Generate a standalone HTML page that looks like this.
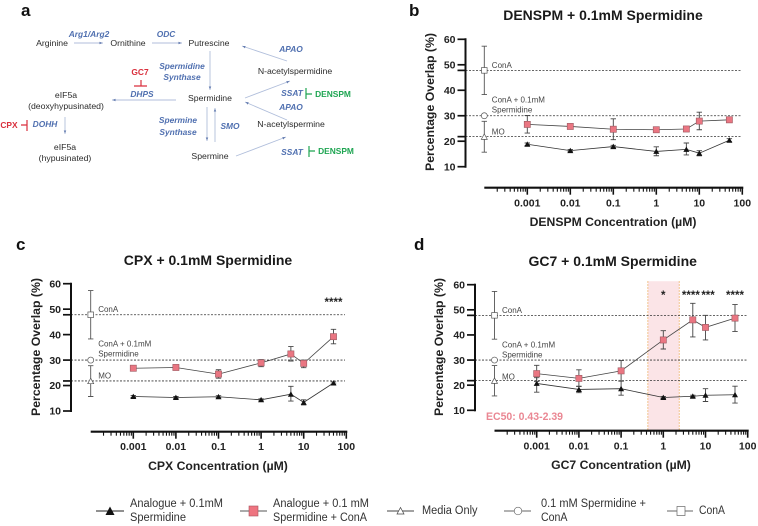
<!DOCTYPE html>
<html lang="en">
<head>
<meta charset="utf-8">
<title>Polyamine pathway and spermidine overlap charts</title>
<style>
html,body{margin:0;padding:0;background:#fff;width:758px;height:526px;overflow:hidden}
svg{display:block;filter:blur(.35px)}
text{font-family:"Liberation Sans",sans-serif}
.m{font-size:8.7px;fill:#2b2b2b;text-anchor:middle}
.e{font-size:8.4px;fill:#5070b0;font-style:italic;font-weight:bold;text-anchor:middle}
.r{font-size:8.4px;fill:#d92f3c;font-weight:bold;text-anchor:middle}
.g{font-size:8.4px;fill:#1ea552;font-weight:bold;text-anchor:middle}
.l{font-size:11.5px;fill:#333}
.pl{font-size:17px;font-weight:bold;fill:#111}
.arr{stroke:#b0bedb;stroke-width:.9;fill:none;marker-end:url(#ah)}
</style>
</head>
<body>
<svg id="fig" xmlns="http://www.w3.org/2000/svg" width="758" height="526" viewBox="0 0 758 526">
<defs><marker id="ah" markerWidth="5" markerHeight="5" refX="4" refY="2" orient="auto"><path d="M0,.6 L3.5,2 L0,3.4Z" fill="#5f78ad"/></marker></defs>
<rect width="758" height="526" fill="#fff"/>
<g>
<text class="pl" x="21" y="16">a</text>
<text class="m" x="52" y="46">Arginine</text>
<text class="m" x="128" y="46">Ornithine</text>
<text class="m" x="209" y="46">Putrescine</text>
<text class="e" x="89" y="37">Arg1/Arg2</text>
<text class="e" x="166" y="37">ODC</text>
<text class="e" x="291" y="52">APAO</text>
<text class="m" x="295" y="74">N-acetylspermidine</text>
<text class="e" x="182" y="69">Spermidine</text>
<text class="e" x="182" y="80">Synthase</text>
<text class="r" x="140" y="75">GC7</text>
<text class="e" x="142" y="97">DHPS</text>
<text class="m" x="66" y="98">eIF5a</text>
<text class="m" x="66" y="109">(deoxyhypusinated)</text>
<text class="m" x="210" y="101">Spermidine</text>
<text class="e" x="292" y="96">SSAT</text>
<text class="g" x="333" y="97">DENSPM</text>
<text class="e" x="291" y="110">APAO</text>
<text class="m" x="291" y="127">N-acetylspermine</text>
<text class="e" x="178" y="123">Spermine</text>
<text class="e" x="178" y="135">Synthase</text>
<text class="e" x="230" y="129">SMO</text>
<text class="r" x="9" y="128">CPX</text>
<text class="e" x="45" y="127">DOHH</text>
<text class="m" x="65" y="150">eIF5a</text>
<text class="m" x="65" y="161">(hypusinated)</text>
<text class="m" x="210" y="159">Spermine</text>
<text class="e" x="292" y="155">SSAT</text>
<text class="g" x="336" y="154">DENSPM</text>
<g>
<line class="arr" x1="74" y1="43" x2="103" y2="43"/>
<line class="arr" x1="152" y1="43" x2="182" y2="43"/>
<line class="arr" x1="210" y1="51" x2="210" y2="90"/>
<line class="arr" x1="287" y1="61" x2="242" y2="46"/>
<line class="arr" x1="245" y1="98" x2="290" y2="81"/>
<line class="arr" x1="287" y1="120" x2="245" y2="102"/>
<line class="arr" x1="236" y1="156" x2="286" y2="137"/>
<line class="arr" x1="207" y1="107" x2="207" y2="141"/>
<line class="arr" x1="215" y1="142" x2="215" y2="108"/>
<line class="arr" x1="176" y1="100" x2="112" y2="100"/>
<line class="arr" x1="65" y1="117" x2="65" y2="134"/>
</g>
<g fill="none" stroke-width="1.2">
<path d="M134,86H147M141,80V86" stroke="#d92f3c"/>
<path d="M27,120V131M21,125H27" stroke="#d92f3c"/>
<path d="M306,88V99M306,94H312" stroke="#1ea552"/>
<path d="M309,146V157M309,151H315" stroke="#1ea552"/>
</g>
</g>
<g id="charts"></g>
<g>
<g>
<line x1="96" y1="511" x2="124" y2="511" stroke="#222" stroke-width=".9"/>
<path d="M105.5,515 L110,506.5 L114.5,515Z" fill="#111"/>
<text class="l" x="130" y="507" textLength="93" lengthAdjust="spacingAndGlyphs">Analogue + 0.1mM</text>
<text class="l" x="130" y="521" textLength="56" lengthAdjust="spacingAndGlyphs">Spermidine</text>
</g>
<g>
<line x1="240" y1="511" x2="267" y2="511" stroke="#555" stroke-width=".9"/>
<rect x="249" y="506" width="9" height="10" fill="#ee7480" stroke="#a8525c" stroke-width=".6"/>
<text class="l" x="273" y="507" textLength="96" lengthAdjust="spacingAndGlyphs">Analogue + 0.1 mM</text>
<text class="l" x="273" y="521" textLength="94" lengthAdjust="spacingAndGlyphs">Spermidine + ConA</text>
</g>
<g>
<line x1="387" y1="511" x2="414" y2="511" stroke="#444" stroke-width=".9"/>
<path d="M397,514 L400.5,507.5 L404,514Z" fill="#fff" stroke="#444" stroke-width=".7"/>
<text class="l" x="422" y="514" textLength="55.5" lengthAdjust="spacingAndGlyphs">Media Only</text>
</g>
<g>
<line x1="504" y1="511" x2="531" y2="511" stroke="#666" stroke-width=".9"/>
<circle cx="518" cy="511" r="3.8" fill="#fff" stroke="#666" stroke-width=".7"/>
<text class="l" x="541" y="507" textLength="105" lengthAdjust="spacingAndGlyphs">0.1 mM Spermidine +</text>
<text class="l" x="541" y="521" textLength="26.5" lengthAdjust="spacingAndGlyphs">ConA</text>
</g>
<g>
<line x1="667" y1="511" x2="693" y2="511" stroke="#666" stroke-width=".9"/>
<rect x="677" y="506.5" width="8" height="9" fill="#fff" stroke="#666" stroke-width=".7"/>
<text class="l" x="699" y="514" textLength="26" lengthAdjust="spacingAndGlyphs">ConA</text>
</g>
</g>
</svg>
<script>
// Shared data
const doses = [0.001, 0.01, 0.1, 1, 5, 10, 50];
const xTickValues = [0.001, 0.01, 0.1, 1, 10, 100];
const xTickLabels = ['0.001', '0.01', '0.1', '1', '10', '100'];
const yTickValues = [10, 20, 30, 40, 50, 60];
const referenceValues = [47.8, 30, 21.8];
const controlNames = ['cona', 'spermidine-cona', 'media-only'];
const controlValues = [47.8, 30, 21.7];
const controlLow = [38.3, 30, 15.7];
const controlHigh = [57.3, 30, 27.8];

// Panel b: DENSPM
const bAnalogue = [18.8, 16.3, 17.9, 16.0, 16.8, 15.3, 20.4];
const bAnalogueLow = [18.3, 15.9, 17.4, 14.3, 14.6, 14.3, 19.8];
const bAnalogueHigh = [19.3, 16.7, 18.4, 17.8, 19.3, 16.3, 21.0];
const bCona = [26.6, 25.8, 24.7, 24.5, 24.8, 27.9, 28.4];
const bConaLow = [23.2, 25.0, 20.6, 23.5, 24.0, 24.5, 27.4];
const bConaHigh = [30.1, 26.6, 28.8, 25.5, 25.6, 31.4, 29.4];

// Panel c: CPX
const cAnalogue = [15.7, 15.3, 15.6, 14.4, 16.6, 13.4, 21.0];
const cAnalogueLow = [15.3, 14.9, 15.2, 14.0, 13.9, 12.4, 20.6];
const cAnalogueHigh = [16.1, 15.7, 16.0, 14.8, 19.7, 14.4, 21.4];
const cCona = [26.8, 27.1, 24.5, 28.9, 32.4, 28.7, 39.2];
const cConaLow = [26.2, 26.5, 22.9, 27.4, 29.6, 27.0, 36.4];
const cConaHigh = [27.4, 27.7, 26.2, 30.2, 35.3, 30.0, 42.1];

// Panel d: GC7
const dAnalogue = [20.7, 18.3, 18.6, 15.1, 15.6, 16.0, 16.2];
const dAnalogueLow = [17.2, 17.0, 16.0, 14.7, 15.2, 13.5, 12.9];
const dAnalogueHigh = [23.0, 19.5, 21.6, 15.5, 16.0, 18.6, 19.6];
const dCona = [24.6, 22.7, 25.7, 38.0, 46.0, 43.0, 46.7];
const dConaLow = [21.5, 19.6, 21.7, 34.4, 39.2, 38.0, 41.4];
const dConaHigh = [27.9, 26.1, 29.8, 41.7, 52.6, 47.8, 52.1];

// Significance marks
const cStarDoses = [50];
const cStarLabels = ['****'];
const dStarDoses = [1, 4.5, 11.5, 50];
const dStarLabels = ['*', '****', '***', '****'];
const dEc50Range = [0.43, 2.39];

const NS = 'http://www.w3.org/2000/svg';
function mk(tag, attrs, parent, txt) {
  const n = document.createElementNS(NS, tag);
  for (const k in attrs) n.setAttribute(k, attrs[k]);
  if (txt !== undefined) n.textContent = txt;
  parent.appendChild(n);
  return n;
}
const root = document.getElementById('charts');

function drawPanel(p) {
  const g = mk('g', {}, root);
  
  
  const X = v => p.x0 + (Math.log10(v) + 3) * p.decade;
  const Y = v => p.y60 + (60 - v) * (p.y10 - p.y60) / 50;
  const ctrlX = X(0.0001);

  const letter = mk('text', {x: p.lx, y: p.ly, 'class': 'pl'}, g, p.id);
  
  

  const title = mk('text', {x: p.tx, y: p.ty, 'text-anchor': 'middle', 'font-size': 14, 'font-weight': 'bold', fill: '#1a1a1a'}, g, p.title);
  
  

  if (p.ec50) {
    const sx1 = X(p.ec50[0]), sx2 = X(p.ec50[1]);
    const shade = mk('rect', {x: sx1, y: p.y60 - 3.5, width: sx2 - sx1, height: p.xAxisY - p.y60 + 3, fill: '#fbe4e7'}, g);
    
    
    [sx1, sx2].forEach(sx => {
      const edge = mk('line', {x1: sx, x2: sx, y1: p.y60 - 3.5, y2: p.xAxisY - 1, stroke: '#eeb56c', 'stroke-width': 1, 'stroke-dasharray': '1.5 1.5'}, g);
      
      
    });
    const ec = mk('text', {x: p.ecx, y: p.ecy, 'font-size': 11, 'font-weight': 'bold', fill: '#ea8793', textLength: 77, lengthAdjust: 'spacingAndGlyphs'}, g, 'EC50: 0.43-2.39');
    
    
  }

  referenceValues.forEach(v => {
    const ref = mk('line', {x1: p.axisX, x2: p.dashEnd, y1: Y(v), y2: Y(v), stroke: '#333', 'stroke-width': .8, 'stroke-dasharray': '2 1.5'}, g);
    
    
  });

  // y axis
  const yAxis = mk('line', {x1: p.axisX, x2: p.axisX, y1: Y(60) - 1, y2: Y(10) + 1, stroke: '#111', 'stroke-width': 2}, g);
  
  
  yTickValues.concat(referenceValues.filter(v => v !== 30)).forEach(v => {
    const t = mk('line', {x1: p.axisX - 8, x2: p.axisX, y1: Y(v), y2: Y(v), stroke: '#111', 'stroke-width': 1.7}, g);
    
    
  });
  yTickValues.forEach(v => {
    const t = mk('text', {x: p.axisX - 10, y: Y(v) + 3.7, 'text-anchor': 'end', 'font-size': 10.5, 'font-weight': 'bold', fill: '#222'}, g, String(v));
    
    
  });
  const yt = mk('text', {transform: 'translate(' + p.ytx + ',' + p.yty + ') rotate(-90)', 'text-anchor': 'middle', 'font-size': 12, 'font-weight': 'bold', fill: '#222', textLength: 138, lengthAdjust: 'spacingAndGlyphs'}, g, 'Percentage Overlap (%)');
  
  

  // x axis
  const xAxis = mk('line', {x1: ctrlX, x2: X(100) + 1, y1: p.xAxisY, y2: p.xAxisY, stroke: '#111', 'stroke-width': 2.2}, g);
  
  
  for (let e = -4; e < 2; e++) {
    for (let m = 2; m < 10; m++) {
      const v = m * Math.pow(10, e);
      const mt = mk('line', {x1: X(v), x2: X(v), y1: p.xAxisY, y2: p.xAxisY + 4, stroke: '#111', 'stroke-width': 1.1}, g);
      
      
    }
  }
  xTickValues.forEach((v, i) => {
    const t = mk('line', {x1: X(v), x2: X(v), y1: p.xAxisY, y2: p.xAxisY + 7, stroke: '#111', 'stroke-width': 1.6}, g);
    
    
    const l = mk('text', {x: X(v), y: p.xLabelY, 'text-anchor': 'middle', 'font-size': 10.5, 'font-weight': 'bold', fill: '#222'}, g, xTickLabels[i]);
    
    
  });
  const xt = mk('text', {x: p.xtx, y: p.xty, 'text-anchor': 'middle', 'font-size': 12.2, 'font-weight': 'bold', fill: '#222'}, g, p.xTitle);
  
  

  // control annotations
  [['ConA', 28.5], ['ConA + 0.1mM', 63], ['Spermidine', 73], ['MO', 95]].forEach(a => {
    const t = mk('text', {x: ctrlX + 7.5, y: p.y60 + a[1], 'font-size': 8, fill: '#444'}, g, a[0]);
    
    
  });

  const errorBar = (x, lo, hi, color, name) => {
    const e = mk('path', {d: 'M' + (x - 2.7) + ',' + Y(hi) + 'H' + (x + 2.7) + 'M' + x + ',' + Y(hi) + 'V' + Y(lo) + 'M' + (x - 2.7) + ',' + Y(lo) + 'H' + (x + 2.7), fill: 'none', stroke: color, 'stroke-width': .9}, g);
    
    
  };

  // controls
  controlValues.forEach((v, i) => {
    if (controlHigh[i] > controlLow[i]) errorBar(ctrlX, controlLow[i], controlHigh[i], '#555', 'control-error-bar');
  });
  controlValues.forEach((v, i) => {
    const y = Y(v);
    let c;
    if (controlNames[i] === 'cona') c = mk('rect', {x: ctrlX - 2.8, y: y - 2.8, width: 5.6, height: 5.6, fill: '#fff', stroke: '#555', 'stroke-width': .7}, g);
    else if (controlNames[i] === 'spermidine-cona') c = mk('circle', {cx: ctrlX, cy: y, r: 3, fill: '#fff', stroke: '#555', 'stroke-width': .7}, g);
    else c = mk('path', {d: 'M' + (ctrlX - 3) + ',' + (y + 2.5) + 'L' + ctrlX + ',' + (y - 3) + 'L' + (ctrlX + 3) + ',' + (y + 2.5) + 'Z', fill: '#fff', stroke: '#555', 'stroke-width': .7}, g);
    
    
  });

  // analogue series
  const aLine = mk('polyline', {points: doses.map((d, i) => X(d) + ',' + Y(p.analogue[i])).join(' '), fill: 'none', stroke: '#333', 'stroke-width': .8}, g);
  
  
  doses.forEach((d, i) => errorBar(X(d), p.analogueLow[i], p.analogueHigh[i], '#444', 'analogue-error-bar'));
  doses.forEach((d, i) => {
    const x = X(d), y = Y(p.analogue[i]);
    const m = mk('path', {d: 'M' + (x - 3) + ',' + (y + 2.5) + 'L' + x + ',' + (y - 2.9) + 'L' + (x + 3) + ',' + (y + 2.5) + 'Z', fill: '#111'}, g);
    
    
  });

  // analogue + ConA series
  const cLine = mk('polyline', {points: doses.map((d, i) => X(d) + ',' + Y(p.cona[i])).join(' '), fill: 'none', stroke: '#444', 'stroke-width': .8}, g);
  
  
  doses.forEach((d, i) => errorBar(X(d), p.conaLow[i], p.conaHigh[i], '#444', 'analogue-cona-error-bar'));
  doses.forEach((d, i) => {
    const x = X(d), y = Y(p.cona[i]);
    const m = mk('rect', {x: x - 3.1, y: y - 3.1, width: 6.2, height: 6.2, fill: '#ea7682', stroke: '#9c5a62', 'stroke-width': .6}, g);
    
    
  });

  // significance
  p.starDoses.forEach((d, i) => {
    const s = mk('text', {x: X(d), y: p.starY, 'text-anchor': 'middle', 'font-size': 11.5, 'font-weight': 'bold', fill: '#222'}, g, p.starLabels[i]);
    
    
  });
}

drawPanel({id: 'b', title: 'DENSPM + 0.1mM Spermidine', xTitle: 'DENSPM Concentration (µM)',
  lx: 409, ly: 16, tx: 603, ty: 20, x0: 527.3, decade: 43, y60: 39.3, y10: 166.7, axisX: 465.5, xAxisY: 187.7,
  dashEnd: 741, xLabelY: 206.5, xtx: 613, xty: 226, ytx: 434, yty: 102,
  analogue: bAnalogue, analogueLow: bAnalogueLow, analogueHigh: bAnalogueHigh,
  cona: bCona, conaLow: bConaLow, conaHigh: bConaHigh, starDoses: [], starLabels: []});
drawPanel({id: 'c', title: 'CPX + 0.1mM Spermidine', xTitle: 'CPX Concentration (µM)',
  lx: 16, ly: 250, tx: 208, ty: 265, x0: 133.3, decade: 42.6, y60: 283.7, y10: 411, axisX: 71, xAxisY: 431.7,
  dashEnd: 345, xLabelY: 450, xtx: 218, xty: 470, ytx: 40, yty: 347,
  analogue: cAnalogue, analogueLow: cAnalogueLow, analogueHigh: cAnalogueHigh,
  cona: cCona, conaLow: cConaLow, conaHigh: cConaHigh, starDoses: cStarDoses, starLabels: cStarLabels, starY: 306});
drawPanel({id: 'd', title: 'GC7 + 0.1mM Spermidine', xTitle: 'GC7 Concentration (µM)',
  lx: 414, ly: 250, tx: 612.7, ty: 266, x0: 536.7, decade: 42.2, y60: 284.7, y10: 410.3, axisX: 475, xAxisY: 430.7,
  dashEnd: 746.7, xLabelY: 449.5, xtx: 621, xty: 469, ytx: 443, yty: 347,
  analogue: dAnalogue, analogueLow: dAnalogueLow, analogueHigh: dAnalogueHigh,
  cona: dCona, conaLow: dConaLow, conaHigh: dConaHigh, starDoses: dStarDoses, starLabels: dStarLabels, starY: 299,
  ec50: dEc50Range, ecx: 486, ecy: 420});
</script>
</body>
</html>
